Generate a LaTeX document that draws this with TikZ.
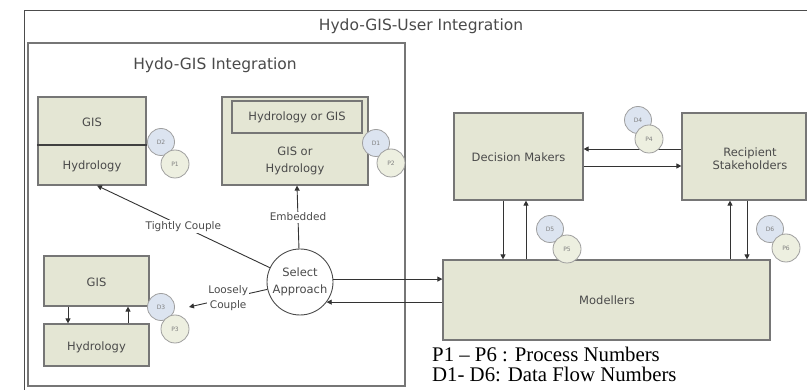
\documentclass[tikz,border=0pt]{standalone}
\usepackage{fontspec}
\setmainfont{DejaVu Sans}
\newfontfamily\legendfont{Liberation Serif}
\usetikzlibrary{arrows.meta}
\definecolor{boxfill}{HTML}{E4E6D4}
\definecolor{boxline}{HTML}{767676}
\definecolor{dfill}{HTML}{DCE4F0}
\definecolor{pfill}{HTML}{EDEFE0}
\definecolor{txt}{HTML}{4A4A4A}
\definecolor{conn}{HTML}{333333}
\begin{document}
\begin{tikzpicture}[x=1pt,y=-1pt,
  box/.style={draw=boxline, fill=boxfill, line width=1.2pt, inner sep=0pt},
  btext/.style={font=\fontsize{11.5}{17}\selectfont, text=txt, align=center, inner sep=1pt},
  ttl/.style={font=\fontsize{15.5}{18}\selectfont, text=txt},
  lbl/.style={font=\fontsize{10.5}{15}\selectfont, text=txt, align=center, fill=white, inner sep=1.5pt},
  arr/.style={draw=conn, line width=0.9pt, -{Triangle[length=5pt,width=5pt]}},
  dcirc/.style={circle, draw=gray!75, line width=0.8pt, fill=dfill, minimum size=27pt, inner sep=0pt, font=\fontsize{6}{6}\selectfont, text=gray},
  pcirc/.style={circle, draw=gray!75, line width=0.8pt, fill=pfill, minimum size=28pt, inner sep=0pt, font=\fontsize{6}{6}\selectfont, text=gray},
  legendtext/.style={font=\legendfont\fontsize{20.8}{22}\selectfont, inner sep=0pt, anchor=base west}]
\useasboundingbox (0,0) rectangle (807,390);
\fill[white] (0,0) rectangle (807,390);
% frames
\draw[draw=black!70, line width=1.2pt] (24.5,10.5) rectangle (815,400);
\node[draw=boxline, line width=1.5pt, minimum width=377pt, minimum height=343pt, inner sep=0pt] (inner) at (216.5,214.5) {};
\node[ttl] (outtitle) at (421,26) {Hydo-GIS-User Integration};
\node[ttl] (intitle) at (215,65) {Hydo-GIS Integration};
% tightly coupled box
\node[box, minimum width=108pt, minimum height=88pt] (tight) at (92,141) {};
\draw[draw=black!75, line width=2pt] ([yshift=-49pt]tight.north west) -- ([yshift=-49pt]tight.north east);
\node[btext] (tgis) at (92,122) {GIS};
\node[btext] (thyd) at (92,166) {Hydrology};
% embedded box
\node[box, minimum width=146pt, minimum height=88pt] (emb) at (295,141) {};
\node[box, line width=1.6pt, minimum width=130pt, minimum height=32pt] (embin) at (297,117) {};
\node[btext] (embint) at (297,117) {Hydrology or GIS};
\node[btext] (embt) at (295,161) {GIS or\\Hydrology};
% loosely coupled boxes
\node[box, minimum width=105pt, minimum height=50pt] (lgis) at (96.5,281) {};
\node[btext] (lgist) at (96.5,282) {GIS};
\node[box, minimum width=105pt, minimum height=42pt] (lhyd) at (96.5,345) {};
\node[btext] (lhydt) at (96.5,347) {Hydrology};
\draw[arr] (lgis.south -| 68,0) -- (lhyd.north -| 68,0);
\draw[arr] (lhyd.north -| 128,0) -- (lgis.south -| 128,0);
% select approach
\node[circle, draw=black!70, line width=0.9pt, fill=white, minimum size=66pt, inner sep=0pt, btext] (sel) at (300,282) {Select\\Approach};
\coordinate (looseend) at (189,307);
\draw[arr] (sel) -- node[lbl] (tightlbl) {Tightly Couple} (tight.south -| 97,0);
\draw[arr] (sel) -- node[lbl] (emblbl) {Embedded} (emb.south -| 297,0);
\draw[arr] (sel) -- node[lbl, font=\fontsize{10.5}{15}\selectfont] (looselbl) {Loosely\\Couple} (looseend);
% right side boxes
\node[box, minimum width=129pt, minimum height=87pt] (dm) at (518.5,156.5) {};
\node[btext] (dmt) at (518.5,157) {Decision Makers};
\node[box, minimum width=124pt, minimum height=87pt] (rs) at (744,156.5) {};
\node[btext, font=\fontsize{11.5}{13}\selectfont] (rst) at (750,159) {Recipient\\Stakeholders};
\node[box, minimum width=327pt, minimum height=80pt] (mod) at (606.5,300) {};
\node[btext] (modt) at (607,300) {Modellers};
% connectors right
\draw[arr] (sel.5) -- (sel.5 -| mod.west);
\draw[arr] (sel.-37 -| mod.west) -- (sel.-37);
\draw[arr] (rs.west |- 0,149) -- (dm.east |- 0,149);
\draw[arr] (dm.east |- 0,166) -- (rs.west |- 0,166);
\draw[arr] (dm.south -| 503,0) -- (mod.north -| 503,0);
\draw[arr] (mod.north -| 526,0) -- (dm.south -| 526,0);
\draw[arr] (mod.north -| 730,0) -- (rs.south -| 730,0);
\draw[arr] (rs.south -| 747,0) -- (mod.north -| 747,0);
% process / data flow circles
\node[dcirc] (d2) at (161,142) {D2};
\node[pcirc] (p1) at (175,164) {P1};
\node[dcirc] (d1) at (376,143) {D1};
\node[pcirc] (p2) at (391,163) {P2};
\node[dcirc] (d3) at (161,307) {D3};
\node[pcirc] (p3) at (175,329) {P3};
\node[dcirc] (d4) at (638,120) {D4};
\node[pcirc] (p4) at (649,139) {P4};
\node[dcirc] (d5) at (550,229) {D5};
\node[pcirc] (p5) at (567,249) {P5};
\node[dcirc] (d6) at (770,229) {D6};
\node[pcirc] (p6) at (786,248) {P6};
% legend
\node[legendtext] (leg1) at (432,362) {P1 – P6 : Process Numbers};
\node[legendtext] (leg2) at (432,382) {D1- D6: Data Flow Numbers};
\end{tikzpicture}
\end{document}
